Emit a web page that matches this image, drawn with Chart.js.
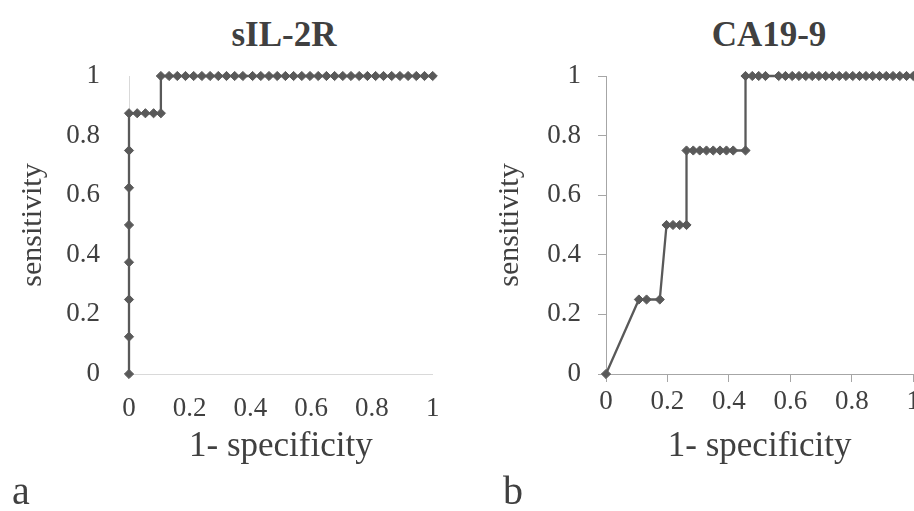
<!DOCTYPE html>
<html>
<head>
<meta charset="utf-8">
<script src="https://cdn.jsdelivr.net/npm/chart.js@4.4.0/dist/chart.umd.min.js"></script>
<style>
html, body { margin: 0; padding: 0; background: #fff; overflow: hidden; width: 914px; height: 511px; }
#stage { position: absolute; left: 0; top: 0; width: 914px; height: 511px;
  font-family: "Liberation Serif", "Times New Roman", serif; color: #404040; }
.box { position: absolute; top: 0; }
.ttl { position: absolute; top: 17px; font-weight: bold; font-size: 35px; line-height: 35px; transform: translateX(-50%); white-space: nowrap; }
.tag { position: absolute; top: 471px; font-size: 40px; line-height: 40px; }
</style>
</head>
<body>
<div id="stage">
  <div class="ttl" style="left:284px">sIL-2R</div>
  <div class="ttl" style="left:769px">CA19-9</div>
  <div class="box" style="left:0px"><canvas id="chartA" width="457" height="480"></canvas></div>
  <div class="box" style="left:476.7px"><canvas id="chartB" width="457" height="480"></canvas></div>
  <div class="tag" style="left:12px">a</div>
  <div class="tag" style="left:503px">b</div>
</div>
<script>
// sIL-2R ROC points (1 - specificity, sensitivity)
const sil2rFpr = [0, 0, 0, 0, 0, 0, 0, 0,
  0.027, 0.054, 0.081, 0.105,
  0.105, 0.132, 0.159, 0.186, 0.213, 0.240, 0.267, 0.294, 0.321, 0.348, 0.375,
  0.407, 0.434, 0.461, 0.488, 0.515, 0.542, 0.569, 0.596, 0.623, 0.650, 0.677, 0.704,
  0.731, 0.758, 0.785, 0.812, 0.838, 0.865, 0.892, 0.919, 0.946, 0.973, 1];
const sil2rTpr = [0, 0.125, 0.25, 0.375, 0.5, 0.625, 0.75, 0.875,
  0.875, 0.875, 0.875, 0.875,
  1, 1, 1, 1, 1, 1, 1, 1, 1, 1, 1,
  1, 1, 1, 1, 1, 1, 1, 1, 1, 1, 1, 1,
  1, 1, 1, 1, 1, 1, 1, 1, 1, 1, 1];

// CA19-9 ROC points
const ca199Fpr = [0,
  0.107, 0.132, 0.175,
  0.197, 0.218, 0.240, 0.262,
  0.262, 0.284, 0.305, 0.327, 0.349, 0.371, 0.392, 0.414, 0.454,
  0.454, 0.476, 0.497, 0.519,
  0.562, 0.584, 0.606, 0.628, 0.650, 0.671, 0.693, 0.715, 0.737, 0.759, 0.781,
  0.803, 0.825, 0.846, 0.868, 0.890, 0.912, 0.934, 0.956, 0.978, 1];
const ca199Tpr = [0,
  0.25, 0.25, 0.25,
  0.5, 0.5, 0.5, 0.5,
  0.75, 0.75, 0.75, 0.75, 0.75, 0.75, 0.75, 0.75, 0.75,
  1, 1, 1, 1,
  1, 1, 1, 1, 1, 1, 1, 1, 1, 1, 1,
  1, 1, 1, 1, 1, 1, 1, 1, 1, 1];

const xTitle = '1- specificity';
const yTitle = 'sensitivity';
const tickLabels = ['0', '0.2', '0.4', '0.6', '0.8', '1'];
const tickStep = 0.2;

const font = 'Liberation Serif';
const ink = '#404040';
const lineGrey = '#595959';

const fmt = (v) => tickLabels[Math.round(v / tickStep)];

function makeRoc(id, fpr, tpr, opts) {
  const pts = fpr.map((x, i) => ({ x: x, y: tpr[i] }));
  const gridCfg = opts.ticks
    ? { display: true, drawOnChartArea: false, drawTicks: true, tickLength: 8, color: opts.axis }
    : { display: false };
  return new Chart(document.getElementById(id), {
    type: 'scatter',
    data: {
      datasets: [{
        data: pts,
        showLine: true,
        borderColor: lineGrey,
        borderWidth: 2.3,
        backgroundColor: lineGrey,
        pointStyle: 'rectRot',
        pointRadius: 4.6,
        pointBorderWidth: 1,
        pointBorderColor: lineGrey,
        pointBackgroundColor: lineGrey,
        tension: 0,
        clip: false
      }]
    },
    options: {
      responsive: false,
      animation: false,
      layout: { padding: { top: 76, right: opts.right, left: 0, bottom: 0 } },
      plugins: { legend: { display: false }, tooltip: { enabled: false } },
      scales: {
        x: {
          type: 'linear', min: 0, max: 1,
          afterFit: s => { s.height = 106; },
          grid: gridCfg,
          border: { display: true, color: opts.axis, width: 1 },
          ticks: { stepSize: tickStep, callback: fmt, maxRotation: 0, color: ink, padding: opts.ticks ? 4 : 11, font: { family: font, size: 27 } },
          title: { display: true, text: xTitle, color: ink, font: { family: font, size: 35 }, padding: { top: 0, bottom: 12 } }
        },
        y: {
          type: 'linear', min: 0, max: 1,
          afterFit: s => { s.width = 129; },
          grid: gridCfg,
          border: { display: true, color: opts.axis, width: 1 },
          ticks: { stepSize: tickStep, callback: fmt, color: ink, padding: opts.ticks ? 17 : 21, font: { family: font, size: 27 } },
          title: { display: true, text: yTitle, color: ink, font: { family: font, size: 30 }, padding: { top: 15, bottom: 0 } }
        }
      }
    }
  });
}

makeRoc('chartA', sil2rFpr, sil2rTpr, { ticks: false, axis: '#d9d9d9', right: 24.3 });
makeRoc('chartB', ca199Fpr, ca199Tpr, { ticks: true, axis: '#a6a6a6', right: 20.7 });
</script>
</body>
</html>
